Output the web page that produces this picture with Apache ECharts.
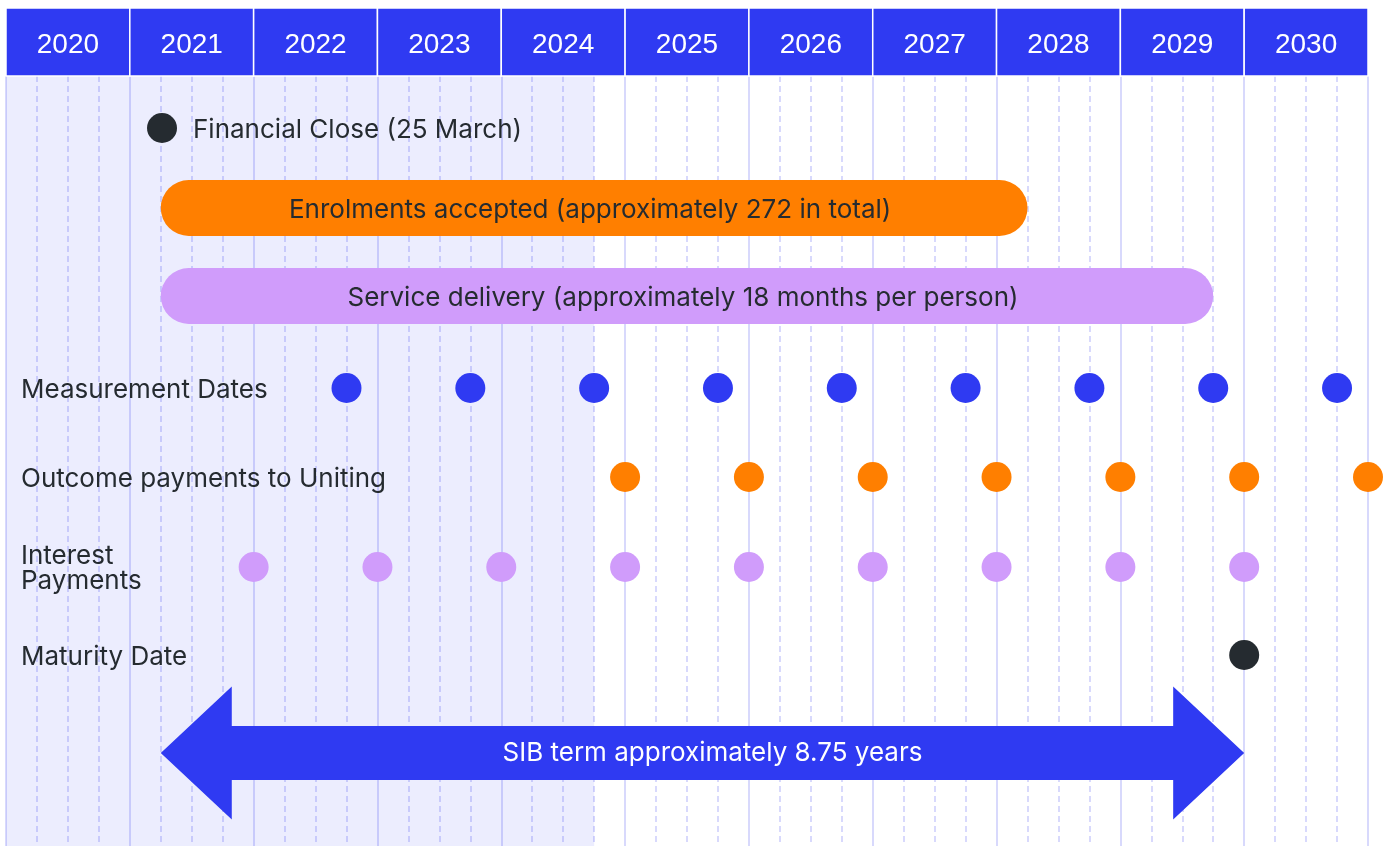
<!DOCTYPE html>
<html>
<head>
    <meta charset="utf-8">
    <title>SIB timeline</title>
    <script src="https://cdn.jsdelivr.net/npm/echarts@6/dist/echarts.min.js"></script>
    <style>
        html, body { margin: 0; padding: 0; background: #fff; }
        #main { width: 1391px; height: 846px; }
    </style>
</head>
<body>
<div id="main"></div>
<script type="text/javascript">
    // 数据
    var years = [2020, 2021, 2022, 2023, 2024, 2025, 2026, 2027, 2028, 2029, 2030];
    var financialClose = [2021.26];
    var enrolments = [2021.25, 2028.25];
    var serviceDelivery = [2021.25, 2029.75];
    var measurementDates = [2022.75, 2023.75, 2024.75, 2025.75, 2026.75, 2027.75, 2028.75, 2029.75, 2030.75];
    var outcomePayments = [2025, 2026, 2027, 2028, 2029, 2030, 2031];
    var interestPayments = [2022, 2023, 2024, 2025, 2026, 2027, 2028, 2029, 2030];
    var maturityDate = [2030];
    var sibTerm = [2021.25, 2030];
    var historicalEnd = 2024.75;

    var rowLabels = ['Measurement Dates', 'Outcome payments to Uniting', 'Interest\nPayments', 'Maturity Date'];
    var enrolmentsText = 'Enrolments accepted (approximately 272 in total)';
    var serviceText = 'Service delivery (approximately 18 months per person)';
    var closeText = 'Financial Close (25 March)';
    var sibText = 'SIB term approximately 8.75 years';

    // 布局 (grid 内的像素行位置)
    var ROW_Y = { close: 52, enrol: 132, service: 220, measure: 312, outcome: 401, interest: 491, maturity: 579, sib: 677 };
    var BLUE = '#2f3af2', ORANGE = '#ff7f00', LILAC = '#d09cfb', DARK = '#252b30';
    var FONT = 'Inter, "Noto Sans", sans-serif';
    var FS = 26;

    function pts(arr, y) {
        return arr.map(function (v) { return [v, y]; });
    }

    var chart = echarts.init(document.getElementById('main'));

    // 圆角条
    function renderBar(text, color) {
        return function (params, api) {
            var p0 = api.coord([api.value(0), api.value(2)]);
            var p1 = api.coord([api.value(1), api.value(2)]);
            var h = 56;
            return {
                type: 'group',
                children: [{
                    type: 'rect',
                    shape: { x: p0[0], y: p0[1] - h / 2, width: p1[0] - p0[0], height: h, r: h / 2 },
                    style: { fill: color }
                }, {
                    type: 'text',
                    style: {
                        text: text, x: (p0[0] + p1[0]) / 2 - 4, y: p0[1] + 2,
                        align: 'center', verticalAlign: 'middle',
                        fill: DARK, font: '400 ' + FS + 'px ' + FONT
                    }
                }]
            };
        };
    }

    var option = {
        animation: false,
        grid: [
            { left: 6, right: 23, top: 76, bottom: 0 },
            { left: 6, right: 23, top: 8, height: 68 }
        ],
        xAxis: [{
            type: 'value', gridIndex: 0, min: 2020, max: 2031, interval: 1,
            axisLine: { show: false }, axisTick: { show: false }, axisLabel: { show: false },
            splitLine: { show: true, lineStyle: { color: '#d8d9fc', width: 2 } },
            minorTick: { show: false, splitNumber: 4 },
            minorSplitLine: { show: true, lineStyle: { color: '#d8d9fc', width: 2, type: [6, 4] } }
        }, {
            type: 'value', gridIndex: 1, min: 2020, max: 2031, show: false
        }],
        yAxis: [{
            type: 'value', gridIndex: 0, min: 0, max: 770, inverse: true, show: false
        }, {
            type: 'value', gridIndex: 1, min: 0, max: 1, show: false
        }],
        series: [{
            // 年份表头
            type: 'custom', xAxisIndex: 1, yAxisIndex: 1,
            data: years.map(function (y) { return [y]; }),
            renderItem: function (params, api) {
                var a = api.coord([api.value(0), 1]);
                var b = api.coord([api.value(0) + 1, 0]);
                return {
                    type: 'group',
                    children: [{
                        type: 'rect',
                        shape: { x: a[0], y: a[1], width: b[0] - a[0], height: b[1] - a[1] },
                        style: { fill: BLUE, stroke: '#fff', lineWidth: 1.5 }
                    }, {
                        type: 'text',
                        style: {
                            text: String(api.value(0)), x: (a[0] + b[0]) / 2, y: (a[1] + b[1]) / 2 + 3,
                            align: 'center', verticalAlign: 'middle',
                            fill: '#fff', font: '500 28px "Liberation Sans", Arial, sans-serif'
                        }
                    }]
                };
            }
        }, {
            // 阴影区域
            type: 'scatter', data: [],
            markArea: {
                silent: true,
                itemStyle: { color: 'rgba(47,58,242,0.09)' },
                data: [[{ xAxis: 2020 }, { xAxis: historicalEnd }]]
            }
        }, {
            // 行标签
            type: 'custom',
            data: [[ROW_Y.measure, 0], [ROW_Y.outcome, 1], [ROW_Y.interest, 2], [ROW_Y.maturity, 3]],
            renderItem: function (params, api) {
                var p = api.coord([2020, api.value(0)]);
                return {
                    type: 'text',
                    style: {
                        text: rowLabels[api.value(1)], x: p[0] + 15, y: p[1] + 2,
                        align: 'left', verticalAlign: 'middle', lineHeight: 25,
                        fill: DARK, font: '400 ' + FS + 'px ' + FONT
                    }
                };
            }
        }, {
            type: 'custom', renderItem: renderBar(enrolmentsText, ORANGE),
            data: [[enrolments[0], enrolments[1], ROW_Y.enrol]]
        }, {
            type: 'custom', renderItem: renderBar(serviceText, LILAC),
            data: [[serviceDelivery[0], serviceDelivery[1], ROW_Y.service]]
        }, {
            type: 'scatter', symbolSize: 30, itemStyle: { color: DARK, opacity: 1 },
            data: pts(financialClose, ROW_Y.close),
            label: {
                show: true, position: 'right', distance: 16, formatter: closeText,
                color: DARK, fontSize: FS, fontFamily: FONT, offset: [0, 2]
            }
        }, {
            type: 'scatter', symbolSize: 30, itemStyle: { color: BLUE, opacity: 1 },
            data: pts(measurementDates, ROW_Y.measure)
        }, {
            type: 'scatter', symbolSize: 30, itemStyle: { color: ORANGE, opacity: 1 },
            data: pts(outcomePayments, ROW_Y.outcome)
        }, {
            type: 'scatter', symbolSize: 30, itemStyle: { color: LILAC, opacity: 1 },
            data: pts(interestPayments, ROW_Y.interest)
        }, {
            type: 'scatter', symbolSize: 30, itemStyle: { color: DARK, opacity: 1 },
            data: pts(maturityDate, ROW_Y.maturity)
        }, {
            // 双向箭头
            type: 'custom',
            data: [[sibTerm[0], sibTerm[1], ROW_Y.sib]],
            renderItem: function (params, api) {
                var p0 = api.coord([api.value(0), api.value(2)]);
                var p1 = api.coord([api.value(1), api.value(2)]);
                var hl = 71, hh = 66.5, sh = 27, y = p0[1];
                return {
                    type: 'group',
                    children: [{
                        type: 'polygon',
                        shape: {
                            points: [
                                [p0[0], y], [p0[0] + hl, y - hh], [p0[0] + hl, y - sh],
                                [p1[0] - hl, y - sh], [p1[0] - hl, y - hh], [p1[0], y],
                                [p1[0] - hl, y + hh], [p1[0] - hl, y + sh],
                                [p0[0] + hl, y + sh], [p0[0] + hl, y + hh]
                            ]
                        },
                        style: { fill: BLUE }
                    }, {
                        type: 'text',
                        style: {
                            text: sibText, x: (p0[0] + p1[0]) / 2 + 10, y: y,
                            align: 'center', verticalAlign: 'middle',
                            fill: '#fff', font: '400 ' + FS + 'px ' + FONT
                        }
                    }]
                };
            }
        }]
    };

    chart.setOption(option);
</script>
</body>
</html>
